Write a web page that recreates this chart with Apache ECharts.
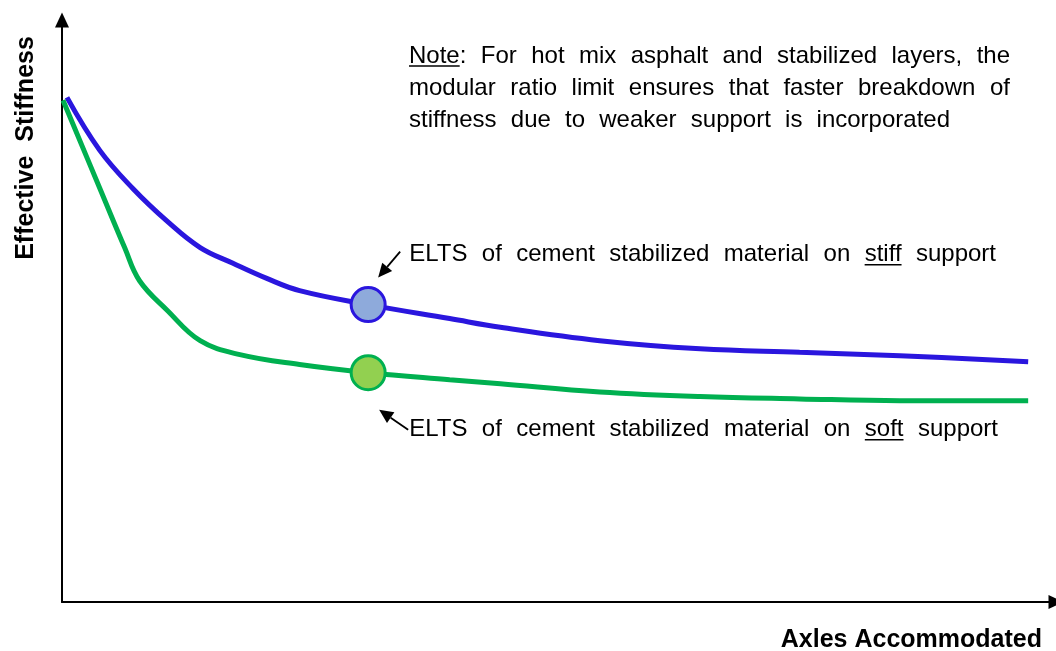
<!DOCTYPE html>
<html>
<head>
<meta charset="utf-8">
<script src="https://cdn.jsdelivr.net/npm/echarts@6/dist/echarts.min.js"></script>
<style>
  html, body { margin: 0; padding: 0; background: #ffffff; }
  #chart { width: 1056px; height: 651px; }
</style>
</head>
<body>
<div id="chart"></div>
<script>
// Effective stiffness vs. axles accommodated (relative units, 0-100)
const axlesStiff = [0.5, 3.8, 7.1, 10.6, 13.9, 17.2, 20.6, 23.9, 30.8, 39.0, 44.1, 54.1, 64.2, 74.2, 84.3, 97.2];
const stiffnessStiff = [86.7, 77.6, 71.1, 65.4, 60.9, 58.2, 55.6, 53.5, 51.1, 48.7, 47.2, 44.9, 43.5, 42.9, 42.3, 41.3];

const axlesSoft = [0.1, 3.8, 6.3, 7.8, 10.6, 13.9, 17.9, 23.9, 30.8, 39.0, 44.1, 54.1, 64.2, 74.2, 84.3, 97.2];
const stiffnessSoft = [86.2, 71.1, 60.9, 55.2, 50.1, 44.9, 42.5, 40.8, 39.4, 38.2, 37.5, 36.1, 35.3, 34.9, 34.6, 34.6];

// ELTS points on each curve
const eltsAxles = 30.8;
const eltsStiffStiff = 51.1;
const eltsStiffSoft = 39.4;

// Text ([...] marks underlined parts)
const yTitle = 'Effective  Stiffness';
const xTitle = 'Axles Accommodated';
const noteLines = [
  '[Note]:  For hot mix asphalt and stabilized layers, the',
  'modular ratio limit ensures that faster breakdown of',
  'stiffness due to weaker support is incorporated'
];
const stiffLabel = 'ELTS of cement stabilized material on [stiff] support';
const softLabel = 'ELTS of cement stabilized material on [soft] support';

const BLUE = '#2a16de';
const GREEN = '#00b050';
const FONT = '"Liberation Sans", Arial, sans-serif';

const chart = echarts.init(document.getElementById('chart'), null, { renderer: 'canvas' });

const zip = (xs, ys) => xs.map((x, i) => [x, ys[i]]);

chart.setOption({
  animation: false,
  backgroundColor: '#ffffff',
  grid: { left: 62, right: 0, top: 20, bottom: 49 },
  xAxis: {
    type: 'value', min: 0, max: 100,
    axisLine: { show: true, lineStyle: { color: '#000', width: 2 }, symbol: ['none', 'triangle'], symbolSize: [14, 15] },
    axisTick: { show: false }, axisLabel: { show: false }, splitLine: { show: false }
  },
  yAxis: {
    type: 'value', min: 0, max: 100,
    axisLine: { show: true, lineStyle: { color: '#000', width: 2 }, symbol: ['none', 'triangle'], symbolSize: [14, 15] },
    axisTick: { show: false }, axisLabel: { show: false }, splitLine: { show: false }
  },
  series: [
    {
      type: 'line', data: zip(axlesStiff, stiffnessStiff), smooth: 0.4,
      showSymbol: false, lineStyle: { color: BLUE, width: 5 }, z: 2
    },
    {
      type: 'line', data: zip(axlesSoft, stiffnessSoft), smooth: 0.4,
      showSymbol: false, lineStyle: { color: GREEN, width: 5 }, z: 2
    },
    {
      type: 'scatter', data: [[eltsAxles, eltsStiffStiff]], symbolSize: 34,
      itemStyle: { color: '#8eaadb', borderColor: BLUE, borderWidth: 3, opacity: 1 }, z: 3
    },
    {
      type: 'scatter', data: [[eltsAxles, eltsStiffSoft]], symbolSize: 34,
      itemStyle: { color: '#92d050', borderColor: GREEN, borderWidth: 3, opacity: 1 }, z: 3
    }
  ]
});

// ---- annotation text with justified word spacing ----
const ctx = document.createElement('canvas').getContext('2d');
function measure(text, size, weight) {
  ctx.font = (weight || 'normal') + ' ' + size + 'px ' + FONT;
  return ctx.measureText(text).width;
}

function textLine(str, x0, x1, yMid, size) {
  const els = [];
  const words = str.split(/\s+/);
  const plain = words.map(w => w.replace(/[\[\]]/g, ''));
  const widths = plain.map(w => measure(w, size));
  const total = widths.reduce((a, b) => a + b, 0);
  const gap = (x1 - x0 - total) / (words.length - 1);
  let x = x0;
  words.forEach((w, i) => {
    els.push({
      type: 'text', x: x, y: yMid, silent: true,
      style: { text: plain[i], fontSize: size, fontFamily: FONT, fill: '#000', align: 'left', verticalAlign: 'middle' }
    });
    const a = w.indexOf('['), b = w.indexOf(']');
    if (a >= 0 && b > a) {
      const ux = x + measure(w.slice(0, a), size);
      const uw = measure(w.slice(a + 1, b), size);
      const uy = yMid + size * 0.42;
      els.push({
        type: 'line', silent: true,
        shape: { x1: ux, y1: uy, x2: ux + uw, y2: uy },
        style: { stroke: '#000', lineWidth: 1.5 }
      });
    }
    x += widths[i] + gap;
  });
  return els;
}

function arrow(tail, tip) {
  const dx = tip[0] - tail[0], dy = tip[1] - tail[1];
  const len = Math.hypot(dx, dy);
  const ux = dx / len, uy = dy / len;
  const hl = 14, hw = 6.5;
  const bx = tip[0] - ux * hl, by = tip[1] - uy * hl;
  return [
    { type: 'line', silent: true, shape: { x1: tail[0], y1: tail[1], x2: bx, y2: by }, style: { stroke: '#000', lineWidth: 1.8 } },
    { type: 'polygon', silent: true,
      shape: { points: [tip, [bx - uy * hw, by + ux * hw], [bx + uy * hw, by - ux * hw]] },
      style: { fill: '#000' } }
  ];
}

const pStiff = chart.convertToPixel({ seriesIndex: 2 }, [eltsAxles, eltsStiffStiff]);
const pSoft = chart.convertToPixel({ seriesIndex: 3 }, [eltsAxles, eltsStiffSoft]);

let graphics = [];
graphics = graphics.concat(textLine(noteLines[0], 409, 1010, 56, 24));
graphics = graphics.concat(textLine(noteLines[1], 409, 1010, 88, 24));
graphics = graphics.concat(textLine(noteLines[2], 409, 950, 120, 24));
graphics = graphics.concat(textLine(stiffLabel, pStiff[0] + 41, 996, pStiff[1] - 50, 24));
graphics = graphics.concat(textLine(softLabel, pSoft[0] + 41, 998, pSoft[1] + 57, 24));
graphics = graphics.concat(arrow([pStiff[0] + 32, pStiff[1] - 53], [pStiff[0] + 10, pStiff[1] - 27]));
graphics = graphics.concat(arrow([pSoft[0] + 40, pSoft[1] + 57], [pSoft[0] + 11, pSoft[1] + 37]));

graphics.push({
  type: 'text', x: 26, y: 148, rotation: Math.PI / 2, silent: true,
  style: { text: yTitle, fontSize: 25, fontWeight: 'bold', fontFamily: FONT, fill: '#000', align: 'center', verticalAlign: 'middle' }
});
graphics.push({
  type: 'text', x: 1042, y: 640, silent: true,
  style: { text: xTitle, fontSize: 25, fontWeight: 'bold', fontFamily: FONT, fill: '#000', align: 'right', verticalAlign: 'middle' }
});

chart.setOption({ graphic: graphics });
</script>
</body>
</html>
